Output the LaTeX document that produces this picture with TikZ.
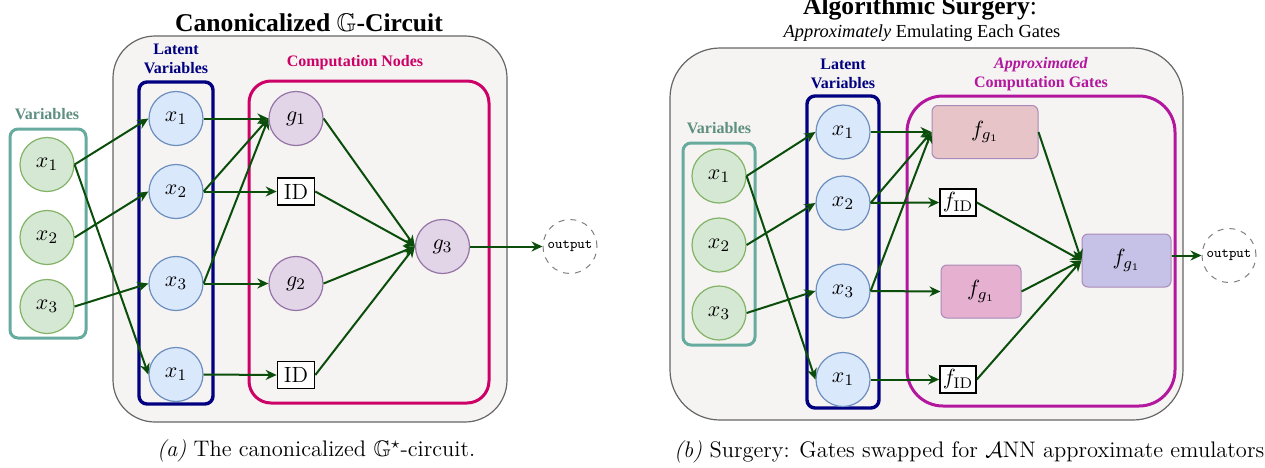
\documentclass[tikz,border=0pt]{standalone}
\usepackage{amsmath,amssymb}
\usepackage{fontspec}
\newfontfamily\tnr{Liberation Serif}
\usetikzlibrary{arrows.meta}
\definecolor{edgegreen}{HTML}{0B4D0B}
\definecolor{panelgray}{HTML}{F5F4F2}
\definecolor{panelstroke}{HTML}{666666}
\definecolor{tealbox}{HTML}{67AB9F}
\definecolor{teallabel}{HTML}{5E8F80}
\definecolor{navybox}{HTML}{000080}
\definecolor{magA}{HTML}{CC0066}
\definecolor{magB}{HTML}{B3179E}
\definecolor{grnfill}{HTML}{D5E8D4}
\definecolor{grnline}{HTML}{82B366}
\definecolor{blufill}{HTML}{DAE8FC}
\definecolor{bluline}{HTML}{6C8EBF}
\definecolor{purfill}{HTML}{E1D5E7}
\definecolor{purline}{HTML}{9673A6}
\definecolor{fgtop}{HTML}{E6C4C8}
\definecolor{fgmid}{HTML}{E6B0D0}
\definecolor{fgright}{HTML}{C6C1E6}
\definecolor{fgline}{HTML}{A98AB8}
\begin{document}
\begin{tikzpicture}[x=0.5pt,y=-0.5pt,
  nodemath/.style={font=\fontsize{11}{13}\selectfont},
  varnode/.style={circle, draw=grnline, fill=grnfill, line width=0.6pt, minimum size=27pt, inner sep=0pt, nodemath},
  latnode/.style={circle, draw=bluline, fill=blufill, line width=0.6pt, minimum size=27pt, inner sep=0pt, nodemath},
  gatenode/.style={circle, draw=purline, fill=purfill, line width=0.6pt, minimum size=27pt, inner sep=0pt, nodemath},
  idbox/.style={draw=black, fill=white, line width=0.8pt, minimum width=18.5pt, minimum height=13.5pt, inner sep=0pt, nodemath},
  fbox/.style={draw=fgline, line width=0.5pt, rounded corners=3pt, inner sep=0pt, nodemath},
  outnode/.style={circle, draw=gray, dashed, line width=0.5pt, minimum size=27pt, inner sep=0pt, font=\ttfamily\fontsize{7}{8}\selectfont},
  conn/.style={draw=edgegreen, line width=1pt, -{Stealth[length=5.5pt,width=5pt]}},
  panel/.style={draw=panelstroke, fill=panelgray, line width=0.6pt},
  grouplabel/.style={font=\tnr\bfseries\fontsize{8}{9.5}\selectfont, align=center},
  titlefont/.style={font=\tnr\bfseries\fontsize{12.8}{15}\selectfont},
  captionfont/.style={font=\fontsize{11.25}{13}\selectfont},
]
\useasboundingbox (0,0) rectangle (1265,467);

% ================= LEFT PANEL =================
\node[titlefont, anchor=base] (titleA) at (309,31) {Canonicalized $\mathbb{G}$-Circuit};
\draw[panel, rounded corners=21pt] (113,36) rectangle (507,422);
\draw[tealbox, line width=1.5pt, rounded corners=4pt] (10,129) rectangle (86,338);
\draw[navybox, line width=1.7pt, rounded corners=4pt] (139,82) rectangle (213,404);
\draw[magA, line width=1.5pt, rounded corners=11pt] (249,81) rectangle (489,403);

\node[grouplabel, text=teallabel] (varlabA) at (47,114) {Variables};
\node[grouplabel, text=navybox] (latlabA) at (176,58.5) {Latent\\Variables};
\node[grouplabel, text=magA] (complabA) at (355,63) {Computation Nodes};

\node[varnode] (vA1) at (47,164.5) {$x_1$};
\node[varnode] (vA2) at (47,237.5) {$x_2$};
\node[varnode] (vA3) at (47,306.5) {$x_3$};

\node[latnode] (lA1) at (176,118.5) {$x_1$};
\node[latnode] (lA2) at (176,191.5) {$x_2$};
\node[latnode] (lA3) at (176,283.5) {$x_3$};
\node[latnode] (lA4) at (176,374.5) {$x_1$};

\node[gatenode] (g1) at (296,118.5) {$g_1$};
\node[idbox] (idA1) at (296,191.5) {ID};
\node[gatenode] (g2) at (296,283.5) {$g_2$};
\node[idbox] (idA2) at (296,375) {ID};
\node[gatenode] (g3) at (442.5,246.5) {$g_3$};
\node[outnode] (outA) at (570,246.5) {output};

\draw[conn] (vA1.east) -- (lA1.west);
\draw[conn] (vA1.east) -- (lA4.west);
\draw[conn] (vA2.east) -- (lA2.west);
\draw[conn] (vA3.east) -- (lA3.west);
\draw[conn] (lA1.east) -- (g1.west);
\draw[conn] (lA2.east) -- (g1.west);
\draw[conn] (lA3.east) -- (g1.west);
\draw[conn] (lA2.east) -- (idA1.west);
\draw[conn] (lA3.east) -- (g2.west);
\draw[conn] (lA4.east) -- (idA2.west);
\draw[conn] (g1.east) -- (g3.west);
\draw[conn] (idA1.east) -- (g3.west);
\draw[conn] (g2.east) -- (g3.west);
\draw[conn] (idA2.east) -- (g3.west);
\draw[conn] (g3.east) -- (outA.west);

\node[anchor=base west, captionfont] (capA) at (150,456) {\textit{(a)} The canonicalized $\mathbb{G}^{\star}$-circuit.};

% ================= RIGHT PANEL =================
\node[titlefont, anchor=base] (titleB) at (920,14) {Algorithmic Surgery\textmd{:}};
\node[anchor=base, font=\tnr\fontsize{9.2}{11}\selectfont] (subB) at (922,37) {\textit{Approximately} Emulating Each Gates};
\draw[panel, rounded corners=25pt] (670,48) rectangle (1183,420);
\draw[tealbox, line width=1.5pt, rounded corners=4pt] (683,143) rectangle (755,345);
\draw[navybox, line width=1.7pt, rounded corners=4pt] (807,96) rectangle (879,408);
\draw[magB, line width=1.5pt, rounded corners=18pt] (907,96) rectangle (1175,406);

\node[grouplabel, text=teallabel] (varlabB) at (719,128) {Variables};
\node[grouplabel, text=navybox] (latlabB) at (843,74) {Latent\\Variables};
\node[grouplabel, text=magB] (complabB) at (1041,74.5) {\textit{Approximated}\\Computation Gates};

\node[varnode] (vB1) at (719,176) {$x_1$};
\node[varnode] (vB2) at (719,245) {$x_2$};
\node[varnode] (vB3) at (719,313) {$x_3$};

\node[latnode] (lB1) at (843,132) {$x_1$};
\node[latnode] (lB2) at (843,203) {$x_2$};
\node[latnode] (lB3) at (843,291) {$x_3$};
\node[latnode] (lB4) at (843,379.5) {$x_1$};

\node[fbox, fill=fgtop, minimum width=53pt, minimum height=26.5pt] (fB1) at (985,132) {$f_{g_1}$};
\node[idbox, minimum width=18pt, minimum height=13.5pt] (fidB1) at (958,202.5) {$f_{\mathrm{ID}}$};
\node[fbox, fill=fgmid, minimum width=40pt, minimum height=26.5pt] (fB2) at (981,291.5) {$f_{g_1}$};
\node[idbox, minimum width=18pt, minimum height=13.5pt] (fidB2) at (958,379.5) {$f_{\mathrm{ID}}$};
\node[fbox, fill=fgright, minimum width=44.5pt, minimum height=26.5pt] (fB3) at (1126.5,260.5) {$f_{g_1}$};
\node[outnode] (outB) at (1229,255.5) {output};

\draw[conn] (vB1.east) -- (lB1.west);
\draw[conn] (vB1.east) -- (lB4.west);
\draw[conn] (vB2.east) -- (lB2.west);
\draw[conn] (vB3.east) -- (lB3.west);
\draw[conn] (lB1.east) -- (fB1.west);
\draw[conn] (lB2.east) -- (fB1.west);
\draw[conn] (lB3.east) -- (fB1.west);
\draw[conn] (lB2.east) -- (fidB1.west);
\draw[conn] (lB3.east) -- (fB2.west);
\draw[conn] (lB4.east) -- (fidB2.west);
\draw[conn] (fB1.east) -- (fB3.west);
\draw[conn] (fidB1.east) -- (fB3.west);
\draw[conn] (fB2.east) -- (fB3.west);
\draw[conn] (fidB2.east) -- (fB3.west);
\draw[conn] (fB3.east |- outB.west) -- (outB.west);

\node[anchor=base west, captionfont] (capB) at (667,457) {\textit{(b)} Surgery: Gates swapped for $\mathcal{A}$NN approximate emulators};
\end{tikzpicture}
\end{document}
